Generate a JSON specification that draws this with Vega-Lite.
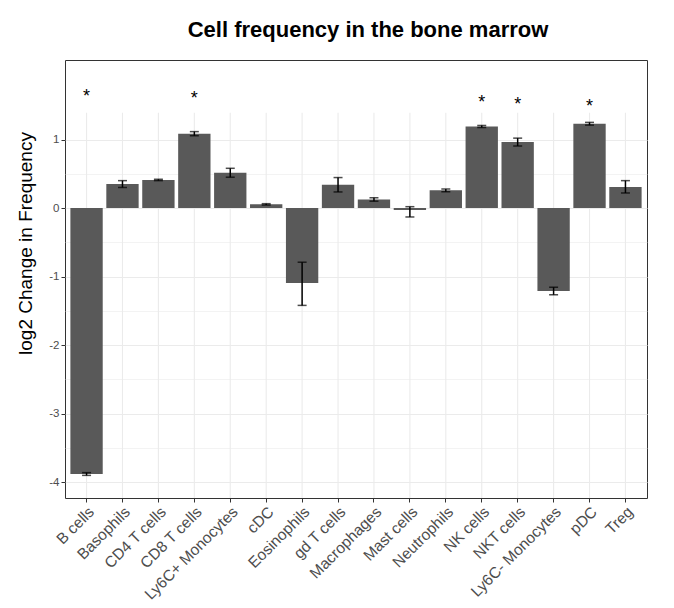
{
  "$schema": "https://vega.github.io/schema/vega-lite/v6.json",
  "autosize": {"type": "none"},
  "padding": {"left": 65, "top": 60, "right": 27, "bottom": 110},
  "width": 582,
  "height": 438,
  "background": "white",
  "config": {
    "view": {"stroke": "#333333", "strokeWidth": 1},
    "font": "Liberation Sans"
  },
  "title": {
    "text": "Cell frequency in the bone marrow",
    "fontSize": 22,
    "fontWeight": "bold",
    "color": "#000000",
    "anchor": "middle",
    "offset": 18,
    "dx": 12
  },
  "data": {
    "values": [
      {"cell": "B cells", "value": -3.88, "lo": -3.90, "hi": -3.86, "star": 1.69},
      {"cell": "Basophils", "value": 0.35, "lo": 0.30, "hi": 0.40, "star": null},
      {"cell": "CD4 T cells", "value": 0.41, "lo": 0.40, "hi": 0.42, "star": null},
      {"cell": "CD8 T cells", "value": 1.085, "lo": 1.055, "hi": 1.115, "star": 1.66},
      {"cell": "Ly6C+ Monocytes", "value": 0.515, "lo": 0.45, "hi": 0.58, "star": null},
      {"cell": "cDC", "value": 0.054, "lo": 0.044, "hi": 0.064, "star": null},
      {"cell": "Eosinophils", "value": -1.095, "lo": -1.42, "hi": -0.79, "star": null},
      {"cell": "gd T cells", "value": 0.34, "lo": 0.235, "hi": 0.445, "star": null},
      {"cell": "Macrophages", "value": 0.125, "lo": 0.10, "hi": 0.15, "star": null},
      {"cell": "Mast cells", "value": -0.03, "lo": -0.13, "hi": 0.02, "star": null},
      {"cell": "Neutrophils", "value": 0.258, "lo": 0.238, "hi": 0.278, "star": null},
      {"cell": "NK cells", "value": 1.19, "lo": 1.175, "hi": 1.205, "star": 1.6},
      {"cell": "NKT cells", "value": 0.963, "lo": 0.905, "hi": 1.02, "star": 1.57},
      {"cell": "Ly6C- Monocytes", "value": -1.21, "lo": -1.265, "hi": -1.155, "star": null},
      {"cell": "pDC", "value": 1.23, "lo": 1.21, "hi": 1.25, "star": 1.55},
      {"cell": "Treg", "value": 0.307, "lo": 0.22, "hi": 0.40, "star": null}
    ]
  },
  "encoding": {
    "x": {
      "field": "cell",
      "type": "nominal",
      "sort": null,
      "scale": {"paddingInner": 0.1, "paddingOuter": 0.15},
      "axis": {
        "title": null,
        "bandPosition": 0.5,
        "domain": false,
        "grid": false,
        "ticks": true,
        "tickSize": 4,
        "tickColor": "#333333",
        "labelAngle": -45,
        "labelAlign": "right",
        "labelBaseline": "top",
        "labelFontSize": 15.5,
        "labelColor": "#4d4d4d",
        "labelPadding": 2
      }
    }
  },
  "layer": [
    {
      "mark": {"type": "rule", "color": "#ebebeb", "strokeWidth": 1.1},
      "encoding": {
        "y": {"datum": -4.23, "type": "quantitative"},
        "y2": {"datum": 1.39}
      }
    },
    {
      "mark": {"type": "bar", "color": "#595959"},
      "encoding": {
        "y": {
          "field": "value",
          "type": "quantitative",
          "scale": {"domain": [-4.23, 2.16], "nice": false, "zero": false},
          "axis": {
            "title": "log2 Change in Frequency",
            "titleFontSize": 19,
            "titleFontWeight": "normal",
            "titleColor": "#000000",
            "titleX": -40,
            "titleY": 183,
            "titleBaseline": "middle",
            "domain": false,
            "values": [-4, -3.5, -3, -2.5, -2, -1.5, -1, -0.5, 0, 0.5, 1],
            "labelExpr": "datum.value % 1 === 0 ? '' + datum.value : ''",
            "labelFontSize": 11.5,
            "labelColor": "#4d4d4d",
            "labelPadding": 2,
            "tickSize": 4,
            "tickColor": "#333333",
            "tickOpacity": {"condition": {"test": "datum.value % 1 !== 0", "value": 0}, "value": 1},
            "grid": true,
            "gridColor": "#ebebeb",
            "gridWidth": {"condition": {"test": "datum.value % 1 !== 0", "value": 0.6}, "value": 1.1}
          }
        }
      }
    },
    {
      "mark": {"type": "rule", "color": "#000000", "strokeWidth": 1.5},
      "encoding": {
        "y": {"field": "lo", "type": "quantitative"},
        "y2": {"field": "hi"}
      }
    },
    {
      "mark": {"type": "tick", "color": "#000000", "size": 9, "thickness": 1.5},
      "encoding": {"y": {"field": "lo", "type": "quantitative"}}
    },
    {
      "mark": {"type": "tick", "color": "#000000", "size": 9, "thickness": 1.5},
      "encoding": {"y": {"field": "hi", "type": "quantitative"}}
    },
    {
      "transform": [{"filter": "datum.star != null"}],
      "mark": {"type": "text", "text": "*", "fontSize": 18, "color": "#000000", "baseline": "alphabetic", "dy": 10},
      "encoding": {"y": {"field": "star", "type": "quantitative"}}
    }
  ]
}
